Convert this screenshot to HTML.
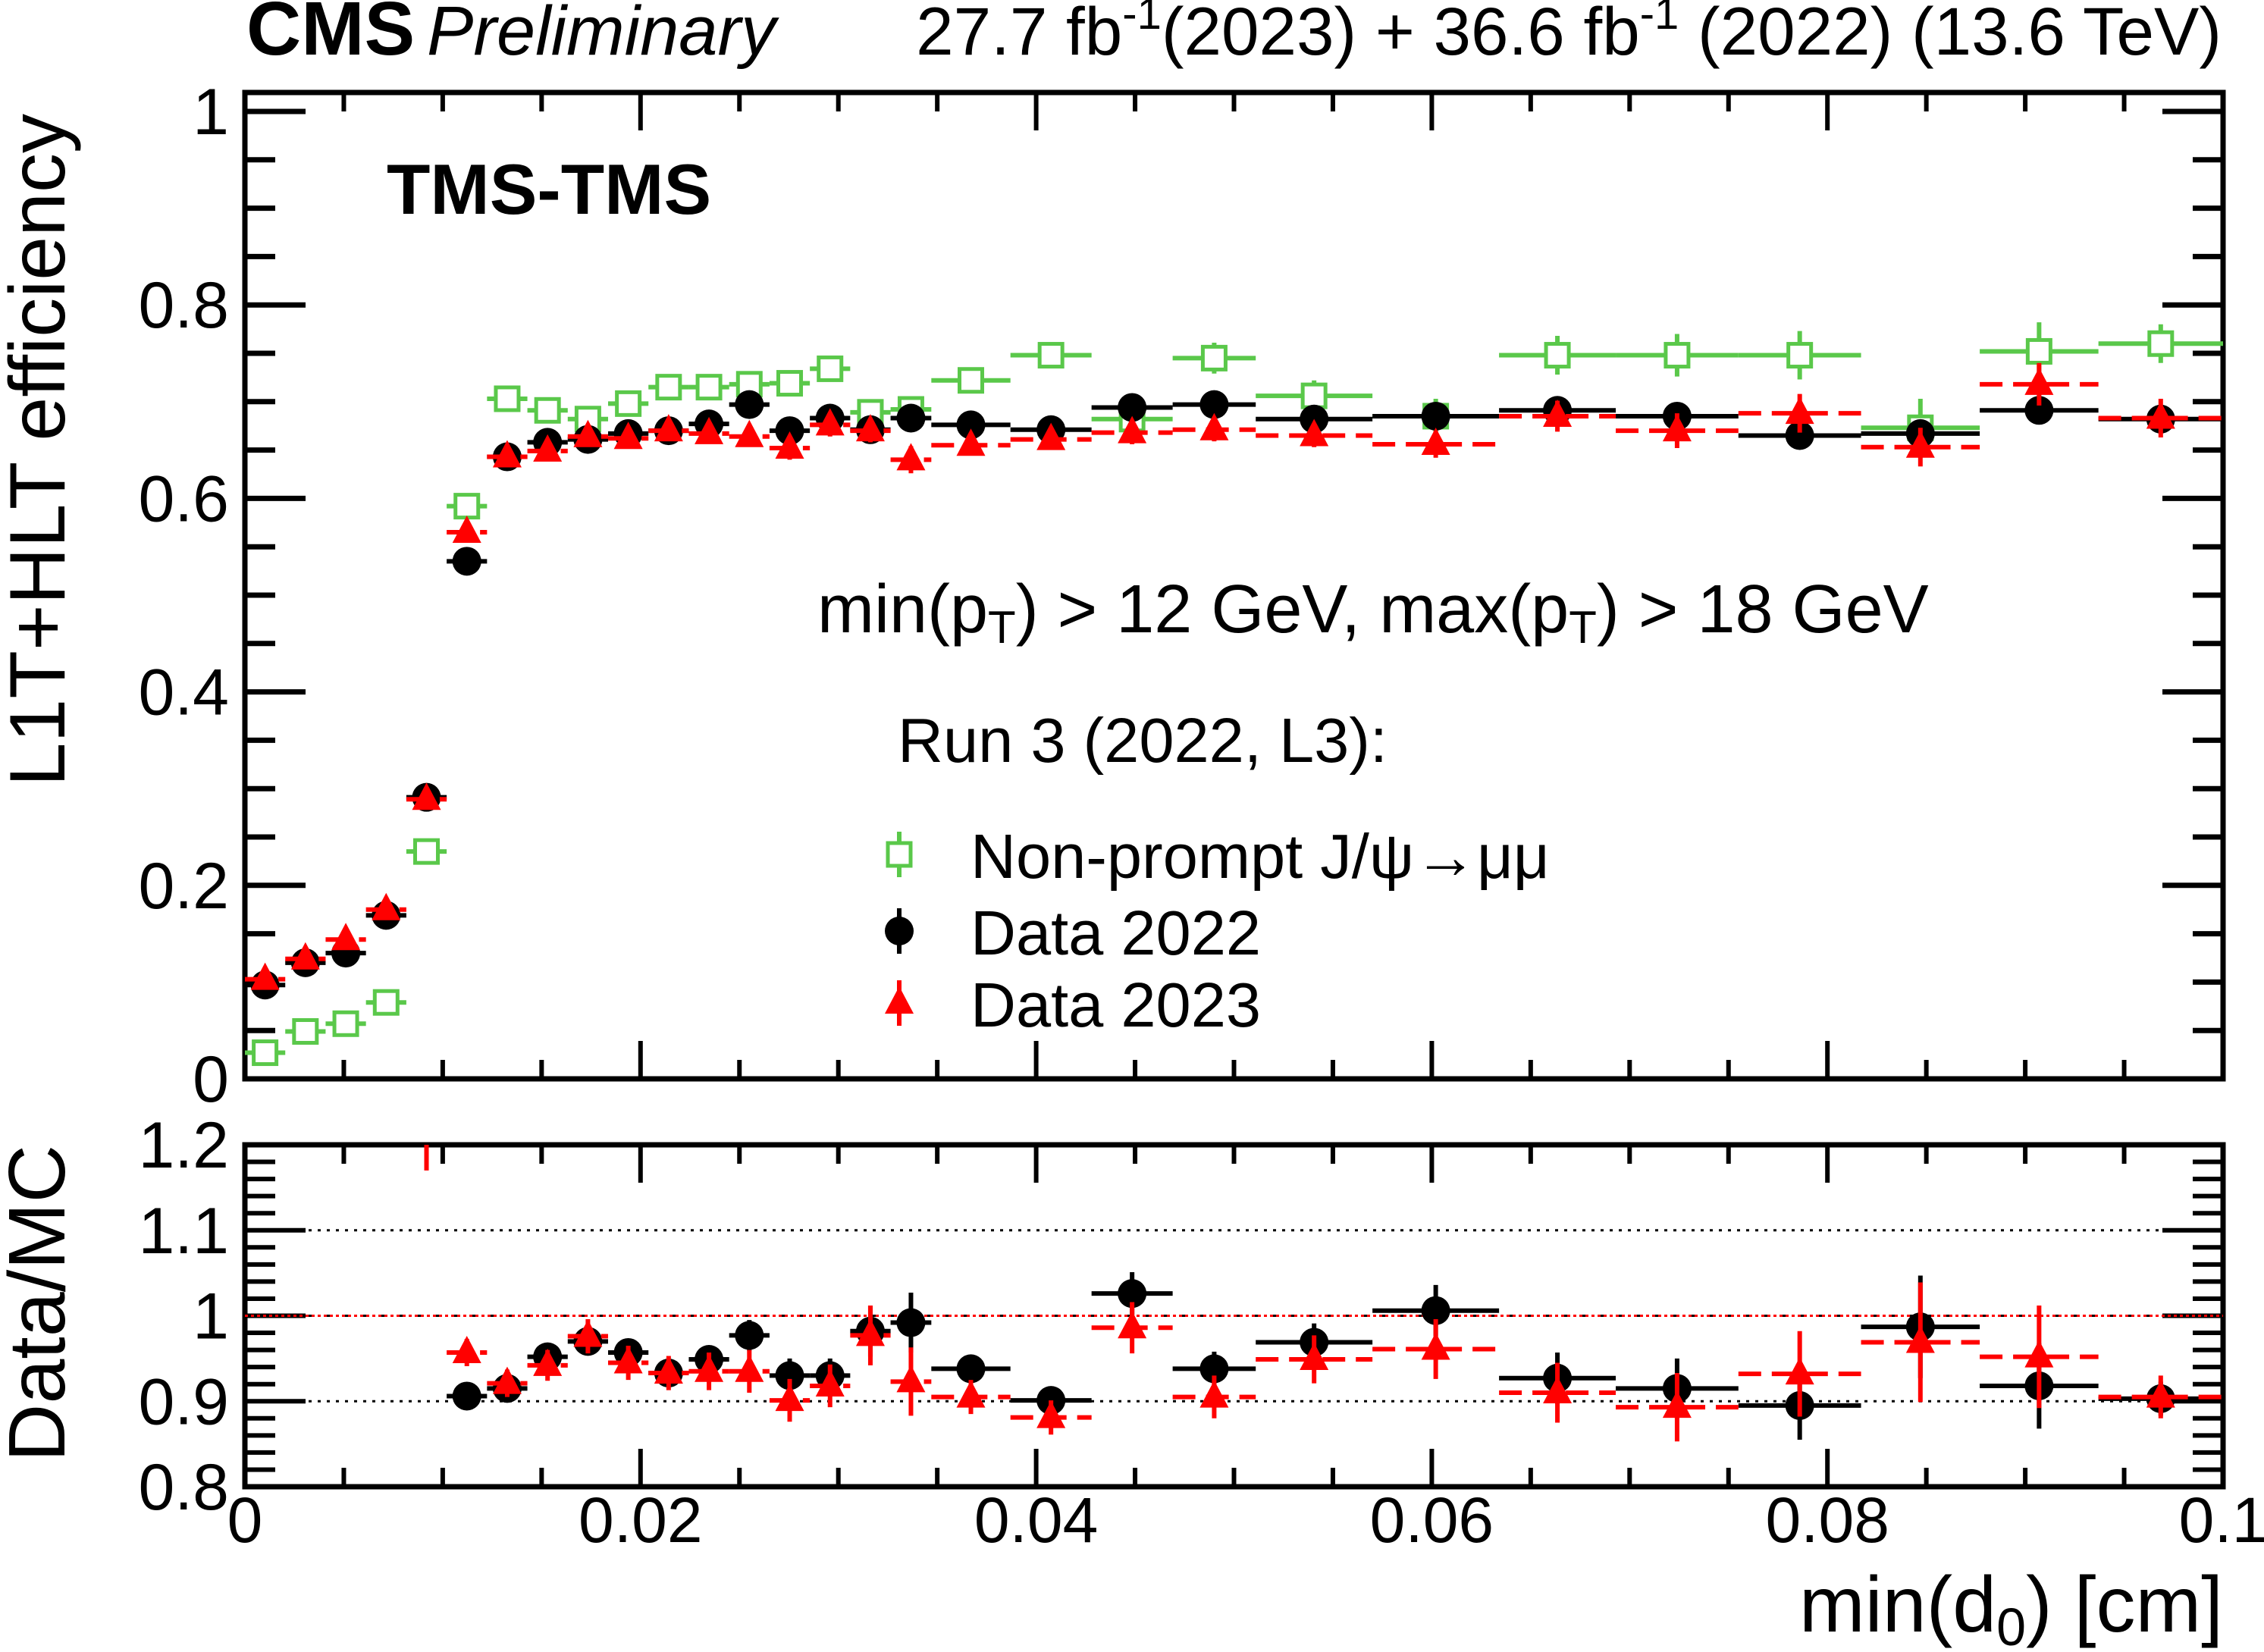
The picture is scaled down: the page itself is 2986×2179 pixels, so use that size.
<!DOCTYPE html>
<html><head><meta charset="utf-8"><style>
html,body{margin:0;padding:0;background:#fff;}
svg{display:block;font-family:"Liberation Sans",Arial,sans-serif;}
</style></head><body>
<svg id="c" width="2986" height="2179" viewBox="0 0 2986 2179" xmlns="http://www.w3.org/2000/svg">
<text x="325" y="72" font-size="100" font-weight="bold">CMS</text>
<text x="563" y="72" font-size="92" font-style="italic">Preliminary</text>
<text x="2930" y="72" font-size="89" text-anchor="end">27.7 fb<tspan dy="-34" font-size="58">-1</tspan><tspan dy="34">(2023) + 36.6 fb</tspan><tspan dy="-34" font-size="58">-1</tspan><tspan dy="34"> (2022) (13.6 TeV)</tspan></text>
<text x="510" y="282" font-size="94" font-weight="bold">TMS-TMS</text>
<text x="1078" y="834" font-size="90">min(p<tspan font-size="60" dy="14">T</tspan><tspan dy="-14">) &gt; 12 GeV, max(p</tspan><tspan font-size="60" dy="14">T</tspan><tspan dy="-14">) &gt; 18 GeV</tspan></text>
<text x="1184" y="1005" font-size="83">Run 3 (2022, L3):</text>
<g id="legend"></g>
<text transform="translate(85,150) rotate(-90)" font-size="104" text-anchor="end">L1T+HLT efficiency</text>
<text transform="translate(85,1510) rotate(-90)" font-size="106" text-anchor="end">Data/MC</text>
<text x="2932" y="2152" font-size="104" text-anchor="end">min(d<tspan font-size="70" dy="18">0</tspan><tspan dy="-18">) [cm]</tspan></text>
<g id="plot"></g>
</svg>
<script>
const edges=[0,0.00204,0.00408,0.00612,0.00816,0.0102,0.01224,0.01428,0.01632,0.01836,0.0204,0.02244,0.02448,0.02652,0.02856,0.0306,0.03264,0.0347,0.0387,0.0428,0.0469,0.0511,0.0570,0.0634,0.0693,0.0755,0.0817,0.0877,0.0937,0.1];
const mcEff=[0.027,0.049,0.057,0.079,0.235,0.592,0.703,0.691,0.682,0.698,0.715,0.715,0.718,0.719,0.734,0.689,0.692,0.722,0.748,0.682,0.745,0.706,0.685,0.748,0.748,0.748,0.673,0.752,0.760];
const mcErr=[0.006,0.006,0.006,0.006,0.006,0.008,0.008,0.008,0.008,0.008,0.008,0.008,0.008,0.008,0.012,0.012,0.012,0.01,0.012,0.014,0.016,0.016,0.018,0.02,0.022,0.025,0.03,0.03,0.02];
const d22Eff=[0.097,0.12,0.13,0.169,0.291,0.535,0.643,0.658,0.661,0.667,0.670,0.677,0.697,0.670,0.683,0.671,0.683,0.676,0.671,0.694,0.697,0.682,0.685,0.691,0.685,0.665,0.667,0.691,0.682];
const d22Err=[0.005,0.005,0.005,0.005,0.005,0.005,0.005,0.005,0.005,0.005,0.005,0.005,0.005,0.005,0.006,0.006,0.006,0.005,0.005,0.006,0.006,0.006,0.006,0.007,0.008,0.009,0.01,0.01,0.01];
const d23Eff=[0.103,0.124,0.144,0.175,0.289,0.565,0.643,0.649,0.664,0.662,0.670,0.667,0.664,0.652,0.676,0.670,0.640,0.655,0.661,0.668,0.671,0.665,0.656,0.685,0.670,0.688,0.653,0.718,0.683];
const d23Err=[0.008,0.008,0.008,0.008,0.008,0.01,0.01,0.01,0.01,0.01,0.01,0.01,0.01,0.012,0.012,0.012,0.014,0.01,0.01,0.012,0.012,0.012,0.014,0.016,0.018,0.02,0.02,0.022,0.02];
const r22=[null,null,null,null,null,0.906,0.915,0.952,0.970,0.957,0.933,0.949,0.977,0.930,0.930,0.982,0.992,0.938,0.901,1.026,0.938,0.969,1.006,0.927,0.915,0.895,0.987,0.918,0.903];
const r22Err=[0,0,0,0,0,0.01,0.012,0.012,0.014,0.014,0.014,0.016,0.018,0.02,0.02,0.03,0.035,0.015,0.015,0.025,0.02,0.022,0.03,0.03,0.035,0.04,0.06,0.05,0.02];
const r23=[null,null,null,null,1.25,0.957,0.921,0.942,0.976,0.945,0.933,0.935,0.935,0.901,0.918,0.977,0.923,0.905,0.881,0.986,0.905,0.949,0.961,0.910,0.893,0.932,0.969,0.952,0.905];
const r23Err=[0,0,0,0,0.08,0.016,0.016,0.018,0.02,0.02,0.02,0.022,0.025,0.025,0.025,0.035,0.04,0.02,0.02,0.03,0.025,0.028,0.035,0.035,0.04,0.05,0.07,0.06,0.025];
const xTicks=["0","0.02","0.04","0.06","0.08","0.1"];
const yTicks=["0","0.2","0.4","0.6","0.8","1"];
const rTicks=["0.8","0.9","1","1.1","1.2"];

const NS="http://www.w3.org/2000/svg";
const L=323,R=2932,UT=122,UB=1423,LT=1510,LB=1961;
const X=v=>L+(R-L)*v/0.1;
const Y=v=>1423-1276*v;
const YR=v=>LB-(LB-LT)*(v-0.8)/0.4;
const plot=document.getElementById('plot');
function mk(tag,at,parent){const e=document.createElementNS(NS,tag);for(const k in at)e.setAttribute(k,at[k]);(parent||plot).appendChild(e);return e;}
function line(x1,y1,x2,y2,st,w,dash,p){return mk('line',{x1,y1,x2,y2,stroke:st,'stroke-width':w,'stroke-dasharray':dash||'none'},p);}

let f=mk('rect',{x:L,y:UT,width:R-L,height:UB-UT,fill:'none',stroke:'#000','stroke-width':7});


f=mk('rect',{x:L,y:LT,width:R-L,height:LB-LT,fill:'none',stroke:'#000','stroke-width':7});



for(let i=0;i<=20;i++){const v=i*0.005,x=X(v),maj=i%4===0,len=maj?50:25;
 line(x,UB,x,UB-len,'#000',6);line(x,UT,x,UT+len,'#000',6);
 line(x,LB,x,LB-len,'#000',6);line(x,LT,x,LT+len,'#000',6);}
xTicks.forEach((t,i)=>{const tx=mk('text',{x:X(i*0.02),y:2034,'font-size':84,'text-anchor':'middle'});tx.textContent=t;
 
 });
for(let i=0;i<=20;i++){const v=i*0.05,y=Y(v),maj=i%4===0,len=maj?80:40;
 line(L,y,L+len,y,'#000',7);line(R,y,R-len,y,'#000',7);}
yTicks.forEach((t,i)=>{const tx=mk('text',{x:302,y:Y(i*0.2)+30,'font-size':86,'text-anchor':'end'});tx.textContent=t;
 
 });
for(let i=0;i<=20;i++){const v=0.8+i*0.02,y=YR(v),maj=i%5===0,len=maj?80:40;
 line(L,y,L+len,y,'#000',6);line(R,y,R-len,y,'#000',6);}
rTicks.forEach((t,i)=>{const tx=mk('text',{x:302,y:YR(0.8+i*0.1)+30,'font-size':86,'text-anchor':'end'});tx.textContent=t;
 
 });
[1.1,0.9].forEach(v=>line(L,YR(v),R,YR(v),'#000',3,'4 8'));
line(L,YR(1),R,YR(1),'#000',3,'4 8');line(L,YR(1),R,YR(1),'#f00',3,'4 4');

const GREEN='#5ac84a';
function clip(y,top,bot){return Math.max(top,Math.min(bot,y));}
function series(vals,errs,yf,top,bot,color,dash,marker,name){
 vals.forEach((v,i)=>{if(v==null)return;
  const x1=X(edges[i]),x2=X(edges[i+1]),xc=(x1+x2)/2;const g=mk('g',{});
  
  
  const y=yf(v),ya=clip(yf(v+errs[i]),top,bot),yb=clip(yf(v-errs[i]),top,bot);
  if(y>=top&&y<=bot) line(x1,y,x2,y,color,6,dash,g);
  line(xc,ya,xc,yb,color,6,null,g);
  if(y>=top&&y<=bot) marker(xc,y,g);
 });}
const sq=(x,y,g)=>mk('rect',{x:x-15,y:y-15,width:30,height:30,fill:'#fff',stroke:GREEN,'stroke-width':5},g);
const circ=(x,y,g)=>mk('circle',{cx:x,cy:y,r:19,fill:'#000'},g);
const tri=(x,y,g)=>mk('path',{d:`M${x} ${y-22}L${x+19} ${y+14}L${x-19} ${y+14}Z`,fill:'#f00'},g);
series(mcEff,mcErr,Y,UT,UB,GREEN,null,sq,'mc-point');
series(d22Eff,d22Err,Y,UT,UB,'#000',null,circ,'data2022-point');
series(d23Eff,d23Err,Y,UT,UB,'#f00','30 14',tri,'data2023-point');
series(r22,r22Err,YR,LT,LB,'#000',null,circ,'ratio2022-point');
series(r23,r23Err,YR,LT,LB,'#f00','30 14',tri,'ratio2023-point');

const lg=document.getElementById('legend');
const entries=[["Non-prompt J/\u03c8\u2192\u03bc\u03bc",GREEN,sq,1127,1158],["Data 2022","#000",circ,1228,1259],["Data 2023","#f00",tri,1323,1354]];
entries.forEach(e=>{const g=mk('g',{},lg);
 
 
 line(1186,e[3]-30,1186,e[3]+30,e[1],6,null,g);e[2](1186,e[3],g);
 const t=mk('text',{x:1280,y:e[4],'font-size':83},g);t.textContent=e[0];});
</script>
</body></html>
